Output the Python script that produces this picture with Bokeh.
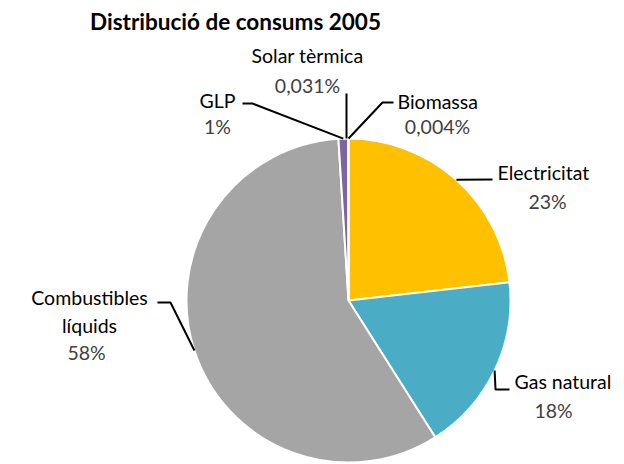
import math
from bokeh.plotting import figure
from bokeh.models import Range1d, ColumnDataSource
from bokeh.core.properties import value
from bokeh.embed import file_html
from bokeh.resources import INLINE

# ---- data ----
categories = ["Biomassa", "Electricitat", "Gas natural", "Combustibles líquids", "GLP", "Solar tèrmica"]
shares = [0.004, 23.2, 17.8, 58.0, 0.96, 0.031]
pct_labels = ["0,004%", "23%", "18%", "58%", "1%", "0,031%"]
colors = ["#9BBB59", "#FFC000", "#4BACC6", "#A5A5A5", "#8064A2", "#F79646"]
title = "Distribució de consums 2005"

W, H = 624, 464
FONT = "Lato"
LABEL_SIZE = "19.5px"


def Y(py):
    return H - py


cx, cy, R = 348, Y(300), 162

total = sum(shares)
starts, ends, mids = [], [], []
cum = 0.0
for s in shares:
    a0 = math.pi / 2 - 2 * math.pi * cum / total
    cum += s
    a1 = math.pi / 2 - 2 * math.pi * cum / total
    starts.append(a1)
    ends.append(a0)
    mids.append((a0 + a1) / 2)

p = figure(width=W, height=H, output_backend="svg", toolbar_location=None,
           x_range=Range1d(0, W), y_range=Range1d(0, H),
           x_axis_type=None, y_axis_type=None, min_border=0,
           background_fill_color="white", border_fill_color="white")
p.outline_line_color = None
p.grid.visible = False

src = ColumnDataSource(dict(start=starts, end=ends, color=colors))
p.wedge(x=cx, y=cy, radius=R, start_angle="start", end_angle="end",
        direction="anticlock", fill_color="color", line_color="white",
        line_width=2, source=src)

# title
p.text(x=[235], y=[Y(21)], text=[title], text_font=value(FONT), text_font_style="bold",
       text_font_size="22.5px", text_align="center", text_baseline="middle", text_color="black")


def edge(i, rr=R):
    return cx + rr * math.cos(mids[i]), cy + rr * math.sin(mids[i])


# leader layouts: (elbow points in pixel coords)
leaders = {
    0: [(382, 102), (393, 102)],
    1: [(492, 179)],
    2: [(495, 389), (509, 389)],
    3: [(170, 302), (157, 302)],
    4: [(252, 103), (242, 103)],
    5: [(346, 93)],
}
for i, pts in leaders.items():
    x0, y0 = edge(i)
    if i == 5:
        x0 = pts[0][0]
    xs = [x0] + [pt[0] for pt in pts]
    ys = [y0] + [Y(pt[1]) for pt in pts]
    p.line(xs, ys, line_color="black", line_width=2)

# labels: (name lines, name pos, align, pct pos)
name_specs = [
    (["Biomassa"], 397, [101], "left"),
    (["Electricitat"], 497, [172], "left"),
    (["Gas natural"], 514, [381], "left"),
    (["Combustibles", "líquids"], 89, [297, 325], "center"),
    (["GLP"], 217, [100], "center"),
    (["Solar tèrmica"], 307, [55], "center"),
]
pct_pos = [(437, 126), (547, 201), (553, 410), (86, 352), (217, 126), (307, 85)]

for i, (lines, nx, nys, al) in enumerate(name_specs):
    p.text(x=[nx] * len(lines), y=[Y(v) for v in nys], text=lines,
           text_font=value(FONT), text_font_size=LABEL_SIZE, text_align=al,
           text_baseline="middle", text_color="black")
    px, py = pct_pos[i]
    p.text(x=[px], y=[Y(py)], text=[pct_labels[i]], text_font=value(FONT),
           text_font_size=LABEL_SIZE, text_align="center", text_baseline="middle",
           text_color="#404040")

open("out.html", "w").write(file_html(p, INLINE))
